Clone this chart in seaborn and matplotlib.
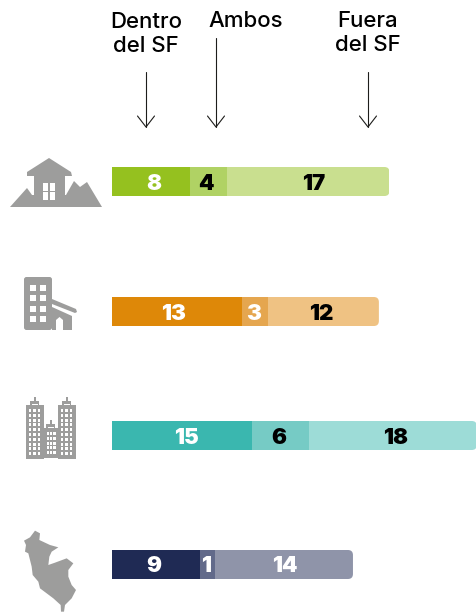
import matplotlib
matplotlib.use('Agg')
import matplotlib.pyplot as plt
import seaborn as sns
from matplotlib.patches import FancyBboxPatch, Polygon, Rectangle
from matplotlib.transforms import IdentityTransform

W, H = 477, 612

# data
rows = ['Rural', 'Urbano', 'Metropolitano', 'Lima']
dentro = [8.1, 13.5, 14.6, 9.2]
ambos = [3.9, 2.7, 5.9, 1.5]
fuera = [16.9, 11.6, 17.5, 14.4]
dentro_labels = ['8', '13', '15', '9']
ambos_labels = ['4', '3', '6', '1']
fuera_labels = ['17', '12', '18', '14']
headers = ['Dentro\ndel SF', 'Ambos', 'Fuera\ndel SF']

# colours for each row: dentro, ambos, fuera
row_colors = [['#95c11f', '#b0d264', '#c9df8f'],
              ['#de8808', '#e5a64f', '#efc283'],
              ['#3ab7af', '#76cbc5', '#9ddcd7'],
              ['#1f2a54', '#626a8a', '#8f94a9']]
label_colors = [['white', 'black', 'black'],
                ['white', 'white', 'black'],
                ['white', 'black', 'black'],
                ['white', 'white', 'white']]

# layout in pixels
row_top = [167, 297, 421, 550]
bar_h = 29
bar_left = 112
px_per_unit = 9.6
label_shift = [[3, -3, 5], [-3, -1, -2], [4, -2, 3], [-2, -1, 1]]
GRAY = '#9d9d9c'

sns.set_theme(style='white')
plt.rcParams['font.family'] = ['Inter', 'DejaVu Sans']

fig = plt.figure(figsize=(W / 100, H / 100), dpi=100)
bg = fig.add_axes([0, 0, 1, 1])
bg.set_xlim(0, W)
bg.set_ylim(H, 0)
bg.axis('off')


def draw_row(i):
    ax = fig.add_axes([bar_left / W, 1 - (row_top[i] + bar_h) / H,
                       (W - bar_left) / W, bar_h / H])
    vals = [dentro[i], ambos[i], fuera[i]]
    labs = [dentro_labels[i], ambos_labels[i], fuera_labels[i]]
    left = 0
    for j, v in enumerate(vals):
        sns.barplot(x=[v], y=[rows[i]], left=left, width=1, orient='h',
                    color=row_colors[i][j], saturation=1, linewidth=0, ax=ax)
        ax.annotate(labs[j], (left + v / 2, 0), xytext=(label_shift[i][j], -2),
                    textcoords='offset pixels', ha='center', va='center',
                    fontsize=16, fontweight='black',
                    color=label_colors[i][j], annotation_clip=False)
        left += v
    ax.set_xlim(0, (W - bar_left) / px_per_unit)
    ax.set_ylim(0.5, -0.5)
    ax.axis('off')

    # round only the right end of the last segment
    fig.canvas.draw()
    bar = ax.containers[-1][0]
    ext = bar.get_window_extent()
    clip = FancyBboxPatch((ext.x0 - 20, ext.y0), ext.width + 20, ext.height,
                          boxstyle='round,pad=0,rounding_size=5',
                          transform=IdentityTransform())
    bar.set_clip_path(clip)


for i in range(len(rows)):
    draw_row(i)

# column headers and arrows
bg.text(146, 34, headers[0], ha='center', va='center', fontsize=16,
        fontweight='medium', color='black', linespacing=1.3)
bg.text(246, 21, headers[1], ha='center', va='center', fontsize=16,
        fontweight='medium', color='black')
bg.text(368, 33, headers[2], ha='center', va='center', fontsize=16,
        fontweight='medium', color='black', linespacing=1.3)


def arrow(x, y0, y1):
    bg.plot([x, x], [y0, y1], color='#1d1d1b', lw=0.8)
    bg.plot([x - 8.5, x, x + 8.5], [y1 - 11, y1, y1 - 11], color='#1d1d1b', lw=0.8)


arrow(146, 72, 127)
arrow(216, 38, 127)
arrow(368, 72, 127)


def poly(pts, color=GRAY):
    bg.add_patch(Polygon(pts, closed=True, fc=color, ec='none'))


def rect(x, y, w, h, color='white'):
    bg.add_patch(Rectangle((x, y), w, h, fc=color, ec='none'))


# house and mountains icon
poly([(10, 207), (27, 188), (32, 195), (66, 195), (74, 181), (80, 187), (87, 182), (102, 207)])
poly([(49, 158), (71, 172), (72, 176), (65, 176), (65, 207), (34, 207), (34, 176), (27, 176), (27, 172)])
rect(32, 177, 2, 18)
rect(65, 177, 2, 12)
for px in (43, 50):
    for py in (183, 192):
        rect(px, py, 5.5, 8)

# building icon
bg.add_patch(FancyBboxPatch((24, 277), 28, 53, boxstyle='round,pad=0,rounding_size=2.5',
                            fc=GRAY, ec='none'))
for px in (30, 40):
    for py in (285, 295, 306, 316):
        rect(px, py, 6, 6)
poly([(52, 307), (72, 316), (72, 330), (52, 330)])
poly([(52, 299), (76, 309), (77, 312), (75, 313), (52, 304)])
rect(56, 320, 7, 10)
poly([(56, 320), (59.5, 317), (63, 320)], 'white')

# towers icon
for x0, y0, wd, ht, n_rows, cols in [(26, 405, 18, 54, 10, 3), (58, 405, 18, 54, 10, 3),
                                     (44, 428, 14, 30, 5, 3)]:
    rect(x0, y0, wd, ht, GRAY)
    rect(x0 + wd / 2 - 4.5, y0 - 4, 9, 4, GRAY)
    rect(x0 + wd / 2 - 0.7, y0 - 8, 1.4, 5, GRAY)
    rect(x0 + wd / 2 - 3, y0 - 1.5, 6, 1.2)
    for r in range(n_rows):
        for c in range(cols):
            rect(x0 + 3 + c * (wd - 4.5) / cols, y0 + 4 + r * (ht - 6) / n_rows, 2.2, 3)

# Lima map
lima = [(105, 62), (120, 70), (118, 90), (135, 98), (150, 105), (175, 112), (155, 125),
        (148, 140), (145, 165), (165, 158), (200, 145), (220, 160), (205, 180), (205, 200),
        (215, 225), (228, 240), (215, 265), (195, 285), (192, 305), (183, 305), (182, 285),
        (160, 265), (120, 235), (115, 215), (98, 195), (95, 170), (85, 130), (75, 125),
        (78, 105), (72, 92), (90, 82)]
poly([(x / 3, y / 3 + 510) for x, y in lima])

fig.savefig('out.png', dpi=100, facecolor='white')
